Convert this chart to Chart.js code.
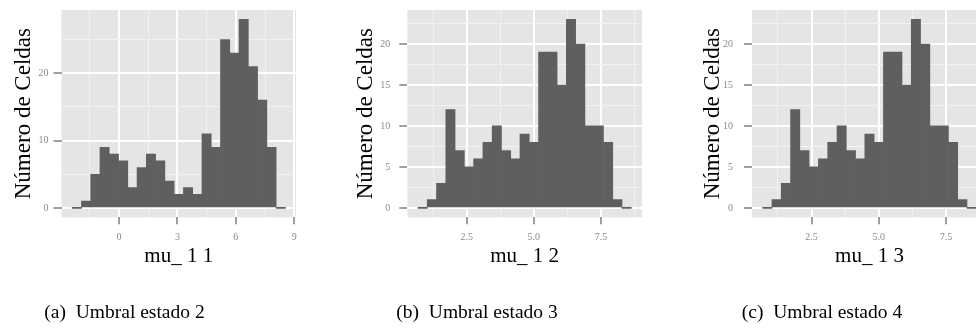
<!DOCTYPE html>
<html>
<head>
<meta charset="utf-8">
<script src="https://cdn.jsdelivr.net/npm/chart.js@4.4.1/dist/chart.umd.min.js"></script>
<style>
  body { margin: 0; width: 976px; height: 330px; overflow: hidden; background: #fff; position: relative; }
  canvas { position: absolute; top: 0; }
</style>
</head>
<body>
<canvas id="h1" width="320" height="330" style="left:0px"></canvas>
<canvas id="h2" width="330" height="330" style="left:330px"></canvas>
<canvas id="h3" width="340" height="330" style="left:660px"></canvas>
<script>
// bin centres and counts
var bins1 = [-2.174, -1.697, -1.221, -0.745, -0.268, 0.208, 0.685, 1.161, 1.637, 2.114, 2.590, 3.067,
  3.543, 4.019, 4.496, 4.972, 5.449, 5.925, 6.401, 6.878, 7.354, 7.831, 8.307];
var counts1 = [0, 1, 5, 9, 8, 7, 3, 6, 8, 7, 4, 2, 3, 2, 11, 9, 25, 23, 28, 21, 16, 9, 0];

var bins2 = [0.856, 1.201, 1.547, 1.893, 2.238, 2.584, 2.929, 3.275, 3.621, 3.966, 4.312, 4.657,
  5.003, 5.349, 5.694, 6.040, 6.385, 6.731, 7.077, 7.422, 7.768, 8.113, 8.459];
var counts2 = [0, 1, 3, 12, 7, 5, 6, 8, 10, 7, 6, 9, 8, 19, 19, 15, 23, 20, 10, 10, 8, 1, 0];
var bins3 = bins2;
var counts3 = [0, 1, 3, 12, 7, 5, 6, 8, 10, 7, 6, 9, 8, 19, 19, 15, 23, 20, 10, 10, 8, 1, 0];

var xTicks1 = [0, 3, 6, 9];
var xLabels1 = ["0", "3", "6", "9"];
var xMinor1 = [-1.5, 1.5, 4.5, 7.5];
var yTicks1 = [0, 10, 20];
var yLabels1 = ["0", "10", "20"];
var yMinor1 = [5, 15, 25];

var xTicks2 = [2.5, 5, 7.5];
var xLabels2 = ["2.5", "5.0", "7.5"];
var xMinor2 = [1.25, 3.75, 6.25, 8.75];
var yTicks2 = [0, 5, 10, 15, 20];
var yLabels2 = ["0", "5", "10", "15", "20"];
var yMinor2 = [2.5, 7.5, 12.5, 17.5, 22.5];

var yTitle = "Número de Celdas";
var captions = ["(a)  Umbral estado 2", "(b)  Umbral estado 3", "(c)  Umbral estado 4"];

// grey ggplot panel behind the grid
var panelBg = {
  id: "panelBg",
  beforeDraw: function (chart) {
    var a = chart.chartArea;
    var ctx = chart.ctx;
    ctx.save();
    ctx.fillStyle = "#e5e5e5";
    ctx.fillRect(a.left, a.top, a.right - a.left, a.bottom - a.top);
    ctx.restore();
  },
};

// sub-figure caption under each plot
var caption = {
  id: "caption",
  afterDraw: function (chart, args, opts) {
    var ctx = chart.ctx;
    ctx.save();
    ctx.font = "19.5px 'Liberation Serif'";
    ctx.fillStyle = "#000";
    ctx.textAlign = "center";
    ctx.textBaseline = "middle";
    ctx.fillText(opts.text, opts.x, 313);
    ctx.restore();
  },
};

function isMinor(c) {
  return c.tick && c.tick.minor;
}

function axis(o) {
  var horiz = o.pos === "bottom";
  return {
    type: "linear",
    position: o.pos,
    min: o.min,
    max: o.max,
    bounds: "data",
    offset: false,
    border: { display: false },
    grid: {
      offset: false,
      color: function (c) { return isMinor(c) ? "#f2f2f2" : "#ffffff"; },
      lineWidth: function (c) { return isMinor(c) ? 1 : 2; },
      tickColor: function (c) { return isMinor(c) ? "rgba(0,0,0,0)" : "#7f7f7f"; },
      tickWidth: 1.5,
      tickLength: horiz ? 7 : 8,
    },
    ticks: {
      autoSkip: false,
      maxRotation: 0,
      padding: o.tickPad,
      color: "#8a8a8a",
      font: { family: "Liberation Serif", size: 10 },
      callback: function (value, index, ticks) {
        var i = o.major.indexOf(ticks[index].value);
        return i < 0 ? "" : o.labels[i];
      },
    },
    title: {
      display: true,
      text: o.title,
      color: "#000",
      font: { family: "Liberation Serif", size: horiz ? 21 : 23 },
      padding: horiz ? { top: 0, bottom: o.titlePad } : { top: o.titlePad, bottom: 0 },
    },
    afterBuildTicks: function (scale) {
      var list = [];
      o.major.forEach(function (v) { list.push({ value: v, minor: false }); });
      o.minor.forEach(function (v) { list.push({ value: v, minor: true }); });
      list.sort(function (a, b) { return a.value - b.value; });
      scale.ticks = list;
    },
    afterFit: function (scale) {
      if (horiz) {
        scale.height = o.size;
        scale.paddingLeft = 0;
        scale.paddingRight = 0;
      } else {
        scale.width = o.size;
        scale.paddingTop = 0;
        scale.paddingBottom = 0;
      }
    },
  };
}

function makeHist(id, bins, counts, xo, yo, padRight, cap) {
  var pts = [];
  for (var i = 0; i < bins.length; i++) {
    pts.push({ x: bins[i], y: counts[i] });
  }
  return new Chart(document.getElementById(id), {
    type: "bar",
    data: {
      datasets: [{
        data: pts,
        backgroundColor: "#5f5f5f",
        borderWidth: 0,
        barPercentage: 1,
        categoryPercentage: 1,
        minBarLength: 1,
      }],
    },
    options: {
      responsive: false,
      animation: false,
      devicePixelRatio: 1,
      layout: { padding: { top: 10, right: padRight, bottom: 55, left: 0 } },
      plugins: { legend: { display: false }, tooltip: { enabled: false }, caption: cap },
      scales: { x: axis(xo), y: axis(yo) },
    },
    plugins: [panelBg, caption],
  });
}

makeHist("h1", bins1, counts1,
  { pos: "bottom", min: -2.96, max: 9.09, major: xTicks1, labels: xLabels1, minor: xMinor1, title: "mu_ 1 1", tickPad: 7, titlePad: 5.9, size: 57.7 },
  { pos: "left", min: -1.4, max: 29.4, major: yTicks1, labels: yLabels1, minor: yMinor1, title: yTitle, tickPad: 5, titlePad: 10.2, size: 61.5 },
  24, { text: captions[0], x: 124.5 });

makeHist("h2", bins2, counts2,
  { pos: "bottom", min: 0.286, max: 9.03, major: xTicks2, labels: xLabels2, minor: xMinor2, title: "mu_ 1 2", tickPad: 7, titlePad: 5.9, size: 57.7 },
  { pos: "left", min: -1.15, max: 24.15, major: yTicks2, labels: yLabels2, minor: yMinor2, title: yTitle, tickPad: 9, titlePad: 22.2, size: 77.3 },
  18, { text: captions[1], x: 147 });

makeHist("h3", bins3, counts3,
  { pos: "bottom", min: 0.286, max: 9.03, major: xTicks2, labels: xLabels2, minor: xMinor2, title: "mu_ 1 3", tickPad: 7, titlePad: 5.9, size: 57.7 },
  { pos: "left", min: -1.15, max: 24.15, major: yTicks2, labels: yLabels2, minor: yMinor2, title: yTitle, tickPad: 11, titlePad: 39.2, size: 92 },
  13, { text: captions[2], x: 162 });
</script>
</body>
</html>
